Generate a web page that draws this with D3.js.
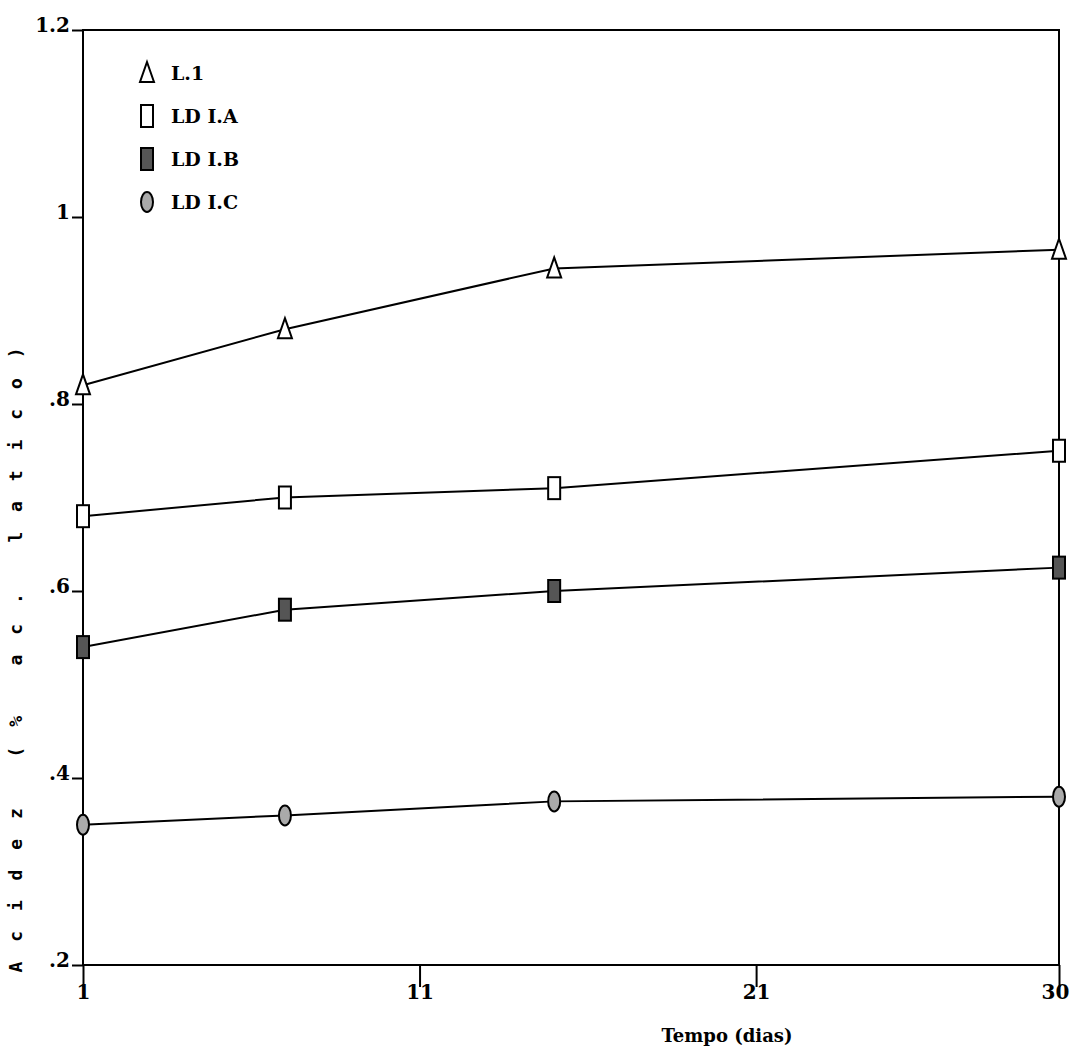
<!DOCTYPE html>
<html>
    <head>
        <title>Acidez</title>
        <meta charset="UTF-8">
        <style>
            body { margin: 0; background: #fff; }
            .tick text { font: bold 20px "DejaVu Serif", serif; fill: #000; }
            .tick line { stroke: #000; stroke-width: 2; }
            .legend text { font: bold 19px "DejaVu Serif", serif; }
        </style>
    </head>
    <body>
    <svg width="1070" height="1049"></svg>
    <script src="https://d3js.org/d3.v7.min.js"></script>
    <script>

        // data
        var days = [1, 7, 15, 30];
        var seriesNames = ["L.1", "LD I.A", "LD I.B", "LD I.C"];
        var l1 = [0.82, 0.88, 0.945, 0.965];
        var ldA = [0.68, 0.70, 0.71, 0.75];
        var ldB = [0.54, 0.58, 0.60, 0.625];
        var ldC = [0.35, 0.36, 0.375, 0.38];
        var xTicks = [1, 11, 21, 30];
        var yTicks = [0.2, 0.4, 0.6, 0.8, 1.0, 1.2];
        var xTitle = "Tempo (dias)";
        var yTitle = "Acidez (% ac. latico)";

        var series = [l1, ldA, ldB, ldC];
        var shapes = ["tri", "rect", "rectf", "circ"];

        var svg = d3.select("svg"),
                pL = 83, pR = 1059, pT = 30, pB = 965;

        var x = d3.scaleLinear().domain([1, 30]).range([pL, pR]);
        var y = d3.scaleLinear().domain([0.2, 1.2]).range([pB, pT]);

        function fmtY(d) {
            if (d === 1) return "1";
            return d3.format(".1f")(d).replace(/^0/, "");
        }

        // axes
        var gy = svg.append("g")
                .attr("transform", "translate(" + pL + ",0)")
                .call(d3.axisLeft(y).tickValues(yTicks).tickFormat(fmtY).tickSize(11).tickPadding(2));
        gy.select(".domain").remove();
        gy.selectAll(".tick text").attr("dy", "0.05em");

        var gx = svg.append("g")
                .attr("transform", "translate(0," + pB + ")")
                .call(d3.axisBottom(x).tickValues(xTicks).tickFormat(d3.format("d")).tickSize(22).tickPadding(-2));
        gx.select(".domain").remove();
        // last label sits against the page edge
        gx.selectAll(".tick text").filter(function (d) { return d === 30; }).attr("dx", "-4");

        // frame
        svg.append("rect")
                .attr("x", pL).attr("y", pT)
                .attr("width", pR - pL).attr("height", pB - pT)
                .attr("fill", "none").attr("stroke", "#000").attr("stroke-width", 2);

        // titles
        svg.append("text")
                .attr("x", 727).attr("y", 1042)
                .attr("text-anchor", "middle")
                .style("font", "bold 18px 'DejaVu Serif', serif")
                .text(xTitle);

        svg.append("text")
                .attr("transform", "translate(22,660) rotate(-90)")
                .attr("text-anchor", "middle")
                .attr("textLength", 625)
                .attr("lengthAdjust", "spacing")
                .style("font", "bold 18px 'DejaVu Sans Mono', monospace")
                .text(yTitle);

        // marker drawing
        function marker(sel, shape) {
            if (shape === "tri") {
                sel.append("path").attr("d", "M0,-11L7,9L-7,9Z")
                        .attr("fill", "#fff").attr("stroke", "#000").attr("stroke-width", 2);
            } else if (shape === "rect") {
                sel.append("rect").attr("x", -6).attr("y", -11).attr("width", 12).attr("height", 22)
                        .attr("fill", "#fff").attr("stroke", "#000").attr("stroke-width", 2);
            } else if (shape === "rectf") {
                sel.append("rect").attr("x", -6).attr("y", -11).attr("width", 12).attr("height", 22)
                        .attr("fill", "#555").attr("stroke", "#000").attr("stroke-width", 2);
            } else {
                sel.append("ellipse").attr("rx", 6).attr("ry", 10)
                        .attr("fill", "#aaa").attr("stroke", "#000").attr("stroke-width", 2);
            }
        }

        var line = d3.line()
                .x(function (d, i) { return x(days[i]); })
                .y(function (d) { return y(d); });

        series.forEach(function (vals, k) {
            svg.append("path")
                    .datum(vals)
                    .attr("d", line)
                    .attr("fill", "none")
                    .attr("stroke", "#000")
                    .attr("stroke-width", 2);

            vals.forEach(function (v, i) {
                var g = svg.append("g")
                        .attr("transform", "translate(" + x(days[i]) + "," + y(v) + ")");
                marker(g, shapes[k]);
            });
        });

        // legend
        var legend = svg.append("g").attr("class", "legend");
        seriesNames.forEach(function (name, k) {
            var row = legend.append("g")
                    .attr("transform", "translate(147," + (73 + k * 43) + ")");
            marker(row, shapes[k]);
            row.append("text")
                    .attr("x", 24).attr("y", 7)
                    .text(name);
        });

    </script>
    </body>
</html>
